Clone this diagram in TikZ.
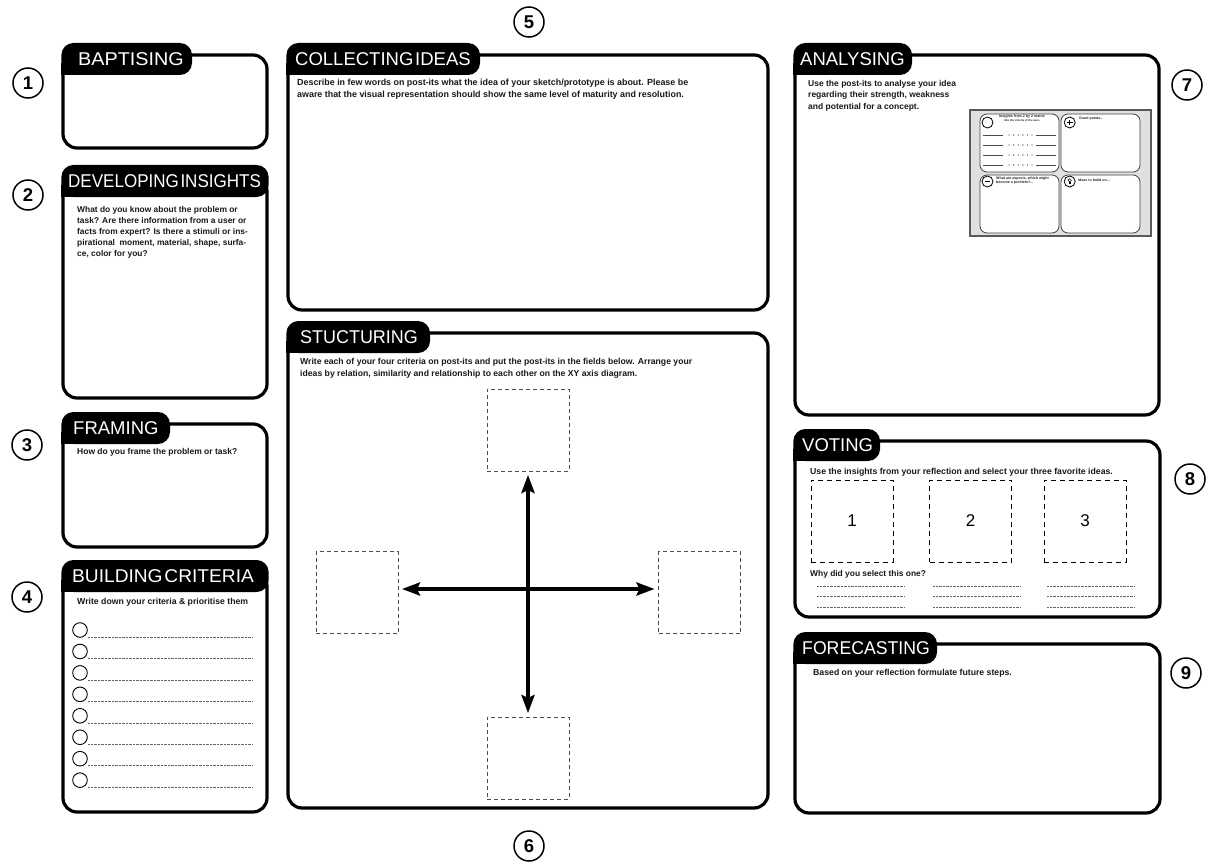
\documentclass[tikz,border=0pt]{standalone}
\usepackage{fontspec}
\setmainfont{Liberation Sans}
\newfontfamily\tabfont{Liberation Sans}[WordSpace=0.35]
\usetikzlibrary{arrows.meta}
\newcommand{\tabshape}[4]{%
  \fill[black,rounded corners=12pt] (#1,#2) rectangle (#3,#4);
  \fill[black] (#1,#4) rectangle ++(12,-12);}
\newcommand{\ifs}[2]{\bfseries\fontsize{#1}{#2}\selectfont}
\tikzset{
  panel/.style={draw=black,line width=3.2pt,rounded corners=14pt,fill=white},
  tabtext/.style={text=white,font=\tabfont\fontsize{18.5}{18.5}\selectfont,anchor=west,inner sep=0pt},
  instr/.style={font=\ifs{8.4}{11.5},text=black!90,anchor=north west,inner sep=0pt,align=left},
  numc/.style={circle,draw=black,line width=1.5pt,minimum size=30pt,inner sep=0pt,font=\bfseries\fontsize{18.5}{18.5}\selectfont},
  sqS/.style={draw=black!70,dash pattern=on 4pt off 3pt,line width=0.9pt,minimum width=82pt,minimum height=82pt,inner sep=0pt},
  vsq/.style={draw=black,dash pattern=on 5pt off 4pt,line width=1pt,minimum width=82pt,minimum height=82pt,inner sep=0pt,font=\fontsize{17}{17}\selectfont},
  axisarrow/.style={line width=4pt,{Stealth[length=18pt,width=13pt,inset=3pt]}-{Stealth[length=18pt,width=13pt,inset=3pt]},shorten <=3.5pt,shorten >=3.5pt},
  dotl/.style={draw=black!60,line width=0.6pt,dash pattern=on 0.6pt off 0.8pt},
  critcirc/.style={draw=black,line width=0.9pt},
  minibox/.style={fill=white,draw=black!75,line width=0.8pt,rounded corners=7pt},
  minit/.style={font=\bfseries\fontsize{3.6}{4.4}\selectfont,inner sep=0pt,anchor=west,align=left,text=black!85},
}
\begin{document}
\begin{tikzpicture}[x=1pt,y=-1pt]
\useasboundingbox (0,0) rectangle (1208,864);
\fill[white] (0,0) rectangle (1208,864);

% number circles
\node[numc] (n1) at (28,83) {1};
\node[numc] (n2) at (28,195) {2};
\node[numc] (n3) at (27,445) {3};
\node[numc] (n4) at (27,597) {4};
\node[numc] (n5) at (529,22) {5};
\node[numc] (n6) at (529,846) {6};
\node[numc] (n7) at (1187,85) {7};
\node[numc] (n8) at (1190,479) {8};
\node[numc] (n9) at (1186,673) {9};

% BAPTISING
\draw[panel] (63,55) rectangle (267,148);
\tabshape{61.4}{43}{192}{75}
\node[tabtext] (tBapt) at (78,59.5) {\scalebox{1.07}[1]{BAPTISING}};

% DEVELOPING INSIGHTS
\draw[panel] (63,177) rectangle (267,398);
\tabshape{61.4}{165}{268.6}{197}
\node[tabtext] (tDev) at (68,181.5) {\scalebox{0.92}[1]{DEVELOPING INSIGHTS}};
\node[instr,font=\ifs{8.4}{11}] (iDev) at (77,206) {What do you know about the problem or\\task? Are there information from a user or\\facts from expert? Is there a stimuli or ins-\\pirational\ \ moment, material, shape, surfa-\\ce, color for you?};

% FRAMING
\draw[panel] (63,424) rectangle (267,547);
\tabshape{61.4}{412}{170}{444}
\node[tabtext] (tFr) at (73,428.5) {FRAMING};
\node[instr,font=\ifs{8.5}{11.5}] (iFr) at (77,448) {How do you frame the problem or task?};

% BUILDING CRITERIA
\draw[panel] (63,572) rectangle (267,812);
\tabshape{61.4}{560}{268.6}{592}
\node[tabtext] (tBc) at (72,576.5) {\scalebox{1.035}[1]{BUILDING CRITERIA}};
\node[instr,font=\ifs{8.7}{11.5}] (iBc) at (77,598) {Write down your criteria \& prioritise them};
\foreach \i in {0,...,7}{
  \draw[critcirc] (80,630+21.45*\i) circle (7.3);
  \draw[dotl] (88,637+21.45*\i) -- (253,637+21.45*\i);
}

% COLLECTING IDEAS
\draw[panel] (288,55) rectangle (768,310);
\tabshape{286.4}{43}{480}{75}
\node[tabtext] (tCol) at (295,59.5) {COLLECTING IDEAS};
\node[instr,font=\ifs{8.9}{12}] (iCol) at (297,79) {Describe in few words on post-its what the idea of your sketch/prototype is about. Please be\\aware that the visual representation should show the same level of maturity and resolution.};

% STUCTURING
\draw[panel] (288,333) rectangle (768,808);
\tabshape{286.4}{321}{430}{353}
\node[tabtext] (tStr) at (300,337.5) {\scalebox{0.97}[1]{STUCTURING}};
\node[instr,font=\ifs{8.65}{12.5}] (iStr) at (300,358) {Write each of your four criteria on post-its and put the post-its in the fields below. Arrange your\\ideas by relation, similarity and relationship to each other on the XY axis diagram.};
\node[sqS] (sqT) at (528,430) {};
\node[sqS] (sqB) at (528,758) {};
\node[sqS] (sqL) at (357,592.5) {};
\node[sqS] (sqR) at (699.5,592.5) {};
\draw[axisarrow] (sqT.south) -- (sqB.north);
\draw[axisarrow] ([yshift=3.5pt]sqL.east) -- ([yshift=3.5pt]sqR.west);

% ANALYSING
\draw[panel] (795,55) rectangle (1159,415);
\tabshape{793.4}{43}{912}{75}
\node[tabtext] (tAn) at (800,59.5) {ANALYSING};
\node[instr,font=\ifs{8.5}{11.5}] (iAn) at (808,80) {Use the post-its to analyse your idea\\regarding their strength, weakness\\and potential for a concept.};
% miniature of the 2x2 sheet
\draw[fill=black!12,draw=black!65,line width=1.4pt] (970,110) rectangle (1151,236);
\draw[minibox] (980,114) rectangle (1059,172);
\draw[minibox] (1061,114) rectangle (1140,172);
\draw[minibox] (980,175) rectangle (1059,233);
\draw[minibox] (1061,175) rectangle (1140,233);
\draw[line width=0.8pt] (987.5,122.5) circle (5.5);
\draw[line width=0.8pt] (1069.7,122.5) circle (5.5);
\draw[line width=0.8pt] (987.5,181.5) circle (5.5);
\draw[line width=0.8pt] (1069.7,181.5) circle (5.5);
\draw[line width=1pt] (1066.9,122.5) -- (1072.5,122.5) (1069.7,119.7) -- (1069.7,125.3);
\draw[line width=1pt] (984.9,181.5) -- (990.1,181.5);
\draw[line width=0.5pt] (1069.7,180.3) circle (1.7);
\draw[line width=0.5pt] (1069.1,182) -- (1069.1,184.3) (1070.3,182) -- (1070.3,184.3);
\node[minit,anchor=center,align=center] (mTL) at (1022,118.5) {Insights from 2 by 2 matrix\\[-0.6pt]{\fontsize{2.8}{3}\selectfont like the criteria of the axes}};
\node[minit] (mTR) at (1079,119) {Good points...};
\node[minit] (mBL) at (996,180.5) {What are aspects, which might\\become a problem?...};
\node[minit] (mBR) at (1078,180) {Ideas to build on...};
\foreach \r in {135,145,155,165}{
  \draw[black!70,line width=0.7pt] (983,\r) -- (1003,\r);
  \draw[black!70,line width=0.7pt] (1036,\r) -- (1056,\r);
  \foreach \k in {0,...,5}{\fill[black!70] (1009+4.6*\k,\r) circle (0.7);}
}

% VOTING
\draw[panel] (795,441) rectangle (1160,617);
\tabshape{793.4}{429}{880}{461}
\node[tabtext] (tVo) at (802,445.5) {VOTING};
\node[instr,font=\ifs{8.7}{11.5}] (iVo) at (810,468) {Use the insights from your reflection and select your three favorite ideas.};
\node[vsq] (v1) at (852,521) {1};
\node[vsq] (v2) at (970.5,521) {2};
\node[vsq] (v3) at (1085,521) {3};
\node[instr] (iWhy) at (810,570) {Why did you select this one?};
\foreach \c in {817,933,1047}{
  \foreach \r in {586,596.5,607}{\draw[dotl] (\c,\r) -- (\c+87,\r);}
}

% FORECASTING
\draw[panel] (795,644) rectangle (1160,813);
\tabshape{793.4}{632}{937}{664}
\node[tabtext] (tFo) at (802,648.5) {\scalebox{0.955}[1]{FORECASTING}};
\node[instr,font=\ifs{8.7}{11.5}] (iFo) at (813,669) {Based on your reflection formulate future steps.};
\end{tikzpicture}
\end{document}
